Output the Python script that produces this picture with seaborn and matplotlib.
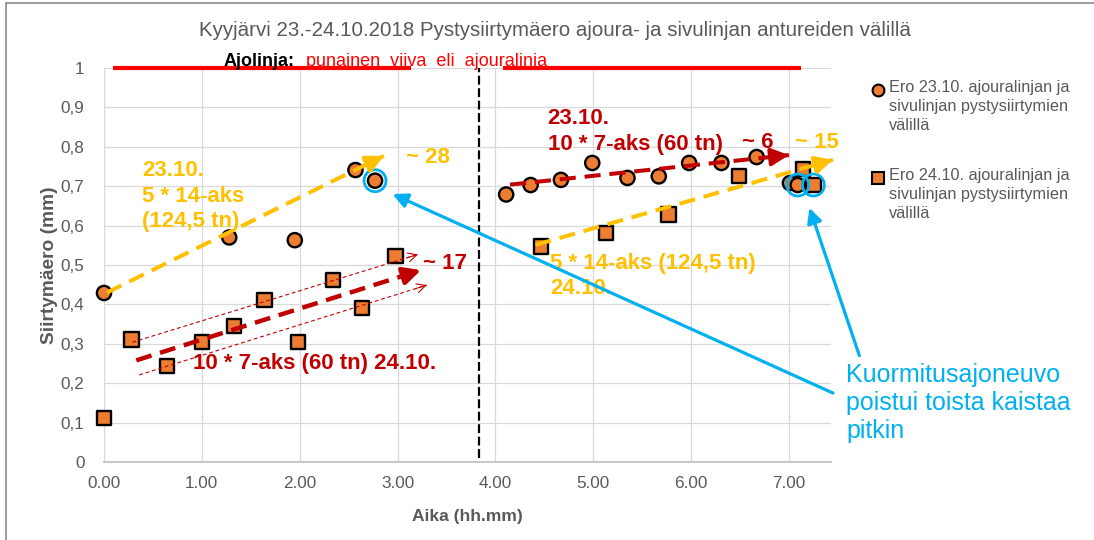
import numpy as np
import pandas as pd
import matplotlib
matplotlib.use('Agg')
import matplotlib.pyplot as plt
import seaborn as sns
from matplotlib.lines import Line2D
from matplotlib.ticker import FuncFormatter, MultipleLocator

# Data (aika hh.mm, siirtymäero mm)
aika_23 = [0.00, 1.28, 1.95, 2.57, 2.77, 4.11, 4.36, 4.67, 4.99, 5.35, 5.67, 5.98, 6.31, 6.67, 7.01, 7.09]
ero_23 = [0.429, 0.570, 0.563, 0.741, 0.714, 0.679, 0.703, 0.716, 0.759, 0.721, 0.725, 0.759, 0.759, 0.774, 0.708, 0.703]
aika_24 = [0.00, 0.28, 0.64, 1.00, 1.33, 1.64, 1.98, 2.34, 2.64, 2.98, 4.47, 5.13, 5.77, 6.49, 7.14, 7.25]
ero_24 = [0.112, 0.311, 0.244, 0.304, 0.345, 0.411, 0.305, 0.462, 0.390, 0.523, 0.547, 0.582, 0.628, 0.725, 0.744, 0.703]

label_23 = 'Ero 23.10. ajouralinjan ja\nsivulinjan pystysiirtymien\nvälillä'
label_24 = 'Ero 24.10. ajouralinjan ja\nsivulinjan pystysiirtymien\nvälillä'
title = 'Kyyjärvi 23.-24.10.2018 Pystysiirtymäero ajoura- ja sivulinjan antureiden välillä'

# points that got a blue ring (vehicle left the lane)
ring_23 = [4, 15]
ring_24 = [15]

ORANGE = '#ED7D31'
YELLOW = '#FFC000'
DARKRED = '#C00000'
RED = '#FF0000'
CYAN = '#00B0F0'
GRAY = '#595959'

sns.set_style('white')
plt.rcParams['font.family'] = ['Liberation Sans', 'DejaVu Sans']

fig = plt.figure(figsize=(10.94, 5.40), dpi=100)
ax = fig.add_axes([104 / 1094, 78 / 540, 727 / 1094, 394 / 540])

df = pd.DataFrame({
    'aika': aika_23 + aika_24,
    'ero': ero_23 + ero_24,
    'sarja': ['23.10.'] * len(aika_23) + ['24.10.'] * len(aika_24),
})
sns.scatterplot(data=df, x='aika', y='ero', style='sarja',
                markers={'23.10.': 'o', '24.10.': 's'}, color=ORANGE,
                edgecolor='black', linewidth=1.7, s=105, legend=False,
                ax=ax, zorder=3, clip_on=False)

# blue rings
rx = [aika_23[i] for i in ring_23] + [aika_24[i] for i in ring_24]
ry = [ero_23[i] for i in ring_23] + [ero_24[i] for i in ring_24]
ax.scatter(rx, ry, s=250, facecolors='none', edgecolors=CYAN, linewidths=2.0, zorder=4)

ax.set_xlim(0, 7.43)
ax.set_ylim(0, 1)
ax.xaxis.set_major_locator(MultipleLocator(1))
ax.yaxis.set_major_locator(MultipleLocator(0.1))
ax.xaxis.set_major_formatter(FuncFormatter(lambda v, p: f'{v:.2f}'))
ax.yaxis.set_major_formatter(FuncFormatter(
    lambda v, p: '0' if abs(v) < 1e-9 else ('1' if abs(v - 1) < 1e-9 else f'{v:.1f}'.replace('.', ','))))
ax.grid(True, color='#D9D9D9', lw=0.9)
ax.set_axisbelow(True)
for s in ['top', 'right']:
    ax.spines[s].set_visible(False)
ax.spines['left'].set_color('#D9D9D9')
ax.spines['bottom'].set_color('#BFBFBF')
ax.spines['bottom'].set_linewidth(1.2)
ax.tick_params(axis='both', length=0, labelsize=12.3, labelcolor=GRAY)
ax.tick_params(axis='y', pad=14)
ax.tick_params(axis='x', pad=10)
ax.set_xlabel('Aika (hh.mm)', fontsize=12.5, fontweight='bold', color=GRAY)
ax.set_ylabel('Siirtymäero (mm)', fontsize=13.8, fontweight='bold', color=GRAY, labelpad=2)
ax.xaxis.set_label_coords(0.50, -0.12)

fig.text(0.507, 1 - 30 / 540, title, ha='center', va='center', fontsize=14.8, color=GRAY)


def dash_arrow(p0, p1, color, lw, dashes, head='-|>', ms=26, hlw=None):
    ax.plot([p0[0], p1[0]], [p0[1], p1[1]], color=color, lw=lw,
            linestyle=(0, dashes), solid_capstyle='butt', dash_capstyle='butt',
            clip_on=False, zorder=5)
    back = (p1[0] - 0.04 * (p1[0] - p0[0]), p1[1] - 0.04 * (p1[1] - p0[1]))
    ax.annotate('', xy=p1, xytext=back, annotation_clip=False, zorder=5,
                arrowprops=dict(arrowstyle=head, color=color, lw=hlw or lw,
                                mutation_scale=ms, shrinkA=0, shrinkB=0))


# trend arrows
dash_arrow((0.03, 0.430), (2.86, 0.777), YELLOW, 2.9, (4.0, 2.2))
dash_arrow((0.33, 0.258), (3.24, 0.487), DARKRED, 3.2, (3.6, 2.0))
dash_arrow((0.29, 0.304), (3.21, 0.527), DARKRED, 0.8, (3.5, 2.5), head='->', ms=16)
dash_arrow((0.36, 0.221), (3.30, 0.449), DARKRED, 0.8, (3.5, 2.5), head='->', ms=16)
dash_arrow((4.15, 0.704), (7.00, 0.779), DARKRED, 2.9, (4.0, 2.2))
dash_arrow((4.41, 0.551), (7.45, 0.767), YELLOW, 2.9, (4.0, 2.2))

# black separator and red driving-line markers
ax.plot([3.83, 3.83], [0.01, 1.0], color='black', lw=1.6, linestyle=(0, (4, 1.6)), zorder=2)
ax.plot([0.095, 3.14], [1.0, 1.0], color=RED, lw=3, solid_capstyle='butt', clip_on=False, zorder=2)
ax.plot([4.08, 7.12], [1.0, 1.0], color=RED, lw=3, solid_capstyle='butt', clip_on=False, zorder=2)
ax.text(1.226, 1.006, 'Ajolinja:', fontsize=13, fontweight='bold', color='black', va='baseline')
ax.text(2.063, 1.006, 'punainen  viiva  eli  ajouralinja', fontsize=13, color=RED, va='baseline')

# annotations
bold = dict(fontsize=16, fontweight='bold', va='center', ha='left', linespacing=1.3)
ax.text(0.39, 0.675, '23.10.\n5 * 14-aks\n(124,5 tn)', color=YELLOW, **bold)
ax.text(3.09, 0.774, '~ 28', color=YELLOW, **bold)
ax.text(3.26, 0.505, '~ 17', color=DARKRED, **bold)
ax.text(0.91, 0.251, '10 * 7-aks (60 tn) 24.10.', color=DARKRED, **bold)
ax.text(4.535, 0.838, '23.10.\n10 * 7-aks (60 tn)', color=DARKRED, **bold)
ax.text(6.52, 0.810, '~ 6', color=DARKRED, **bold)
ax.text(7.06, 0.812, '~ 15', color=YELLOW, **bold)
ax.text(4.56, 0.472, '5 * 14-aks (124,5 tn)\n24.10.', color=YELLOW, **bold)

# blue arrows and note
for start, end in [((7.45, 0.175), (2.95, 0.680)), ((7.72, 0.270), (7.21, 0.645))]:
    ax.annotate('', xy=end, xytext=start, annotation_clip=False, zorder=6,
                arrowprops=dict(arrowstyle='-|>', color=CYAN, lw=2.3,
                                mutation_scale=22, shrinkA=0, shrinkB=0))
fig.text(846 / 1094, 1 - 403 / 540, 'Kuormitusajoneuvo\npoistui toista kaistaa\npitkin',
         color=CYAN, fontsize=18, va='center', ha='left', linespacing=1.2)

# legend drawn by hand on the right
for y0, mk, lab in [(90, 'o', label_23), (178, 's', label_24)]:
    fig.add_artist(Line2D([878 / 1094], [1 - y0 / 540], marker=mk, markersize=8.5,
                          markerfacecolor=ORANGE, markeredgecolor='black',
                          markeredgewidth=1.5, linestyle='none'))
    fig.text(889 / 1094, 1 - (y0 - 10) / 540, lab, color=GRAY, fontsize=11.7,
             va='top', ha='left', linespacing=1.35)

# chart area border (left and top visible)
fig.add_artist(Line2D([6 / 1094, 6 / 1094], [0, 1 - 3 / 540], color='#8C8C8C', lw=1.2))
fig.add_artist(Line2D([6 / 1094, 1], [1 - 3 / 540, 1 - 3 / 540], color='#8C8C8C', lw=1.2))

fig.savefig('out.png', dpi=100, facecolor='white')
